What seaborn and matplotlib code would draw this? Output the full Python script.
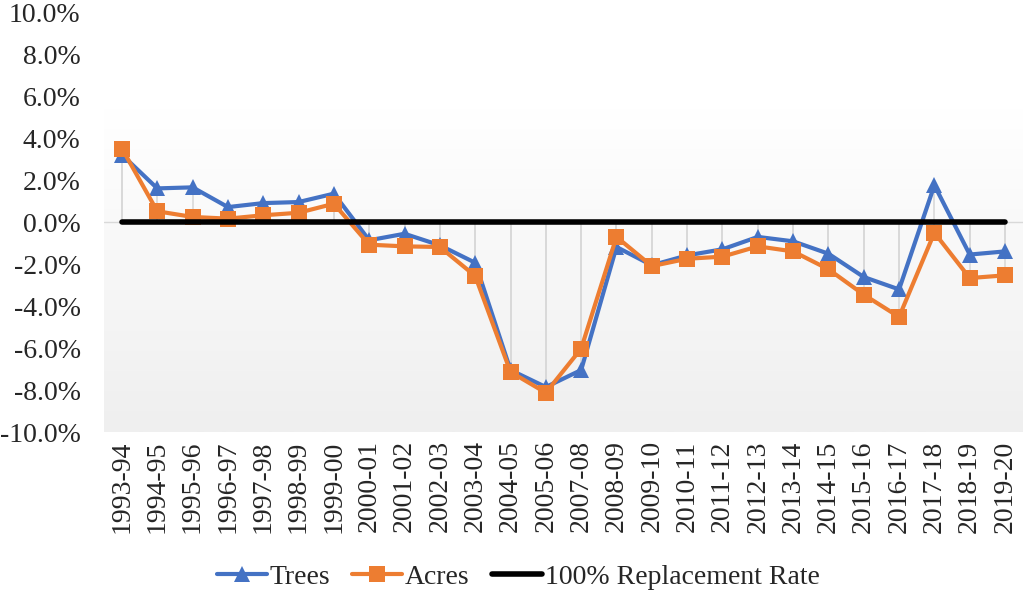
import numpy as np
import pandas as pd
import matplotlib
matplotlib.use('Agg')
import matplotlib.pyplot as plt
from matplotlib.colors import LinearSegmentedColormap
from matplotlib.lines import Line2D
import seaborn as sns

# data (percent)
seasons = ['1993-94', '1994-95', '1995-96', '1996-97', '1997-98', '1998-99', '1999-00',
           '2000-01', '2001-02', '2002-03', '2003-04', '2004-05', '2005-06', '2007-08',
           '2008-09', '2009-10', '2010-11', '2011-12', '2012-13', '2013-14', '2014-15',
           '2015-16', '2016-17', '2017-18', '2018-19', '2019-20']
trees = [3.2, 1.6, 1.65, 0.71, 0.9, 0.95, 1.35, -0.87, -0.56, -1.11, -1.94, -7.05, -7.86,
         -7.05, -1.19, -2.06, -1.59, -1.3, -0.71, -0.92, -1.51, -2.62, -3.21, 1.75, -1.55, -1.4]
acres = [3.5, 0.51, 0.24, 0.16, 0.32, 0.44, 0.87, -1.08, -1.16, -1.19, -2.57, -7.14, -8.13,
         -6.03, -0.71, -2.1, -1.75, -1.65, -1.16, -1.4, -2.25, -3.46, -4.52, -0.51, -2.67, -2.54]
replacement = [0.0] * len(seasons)
yticks = [-10, -8, -6, -4, -2, 0, 2, 4, 6, 8, 10]

sns.set_style('white')
plt.rcParams['font.family'] = ['Liberation Serif', 'DejaVu Serif']
plt.rcParams['font.size'] = 20

pos = np.arange(len(seasons))
df = pd.DataFrame({
    'pos': np.concatenate([pos, pos]),
    'value': trees + acres,
    'series': ['Trees'] * len(seasons) + ['Acres'] * len(seasons),
})

fig = plt.figure(figsize=(10.24, 5.92), dpi=100)
ax = fig.add_axes([104.3 / 1024, 1 - 432 / 592, (1022.7 - 104.3) / 1024, 420 / 592])

# gradient plot-area fill
cmap = LinearSegmentedColormap.from_list('bg', ['#ffffff', '#efefef'])
grad = np.linspace(0, 1, 256).reshape(-1, 1)
ax.imshow(grad, cmap=cmap, aspect='auto', extent=(-0.5, 25.5, -10, 5.4),
          origin='upper', zorder=0)

# drop lines and axis line
ax.vlines(pos, 0, trees, color='#d9d9d9', lw=1.2, zorder=1)
ax.vlines(pos, 0, acres, color='#d9d9d9', lw=1.2, zorder=1)
ax.axhline(0, color='#d9d9d9', lw=1, zorder=1)

sns.lineplot(data=df, x='pos', y='value', hue='series', style='series',
             palette={'Trees': '#4472C4', 'Acres': '#ED7D31'},
             markers={'Trees': '^', 'Acres': 's'}, dashes=False,
             markersize=11, markeredgewidth=0, lw=3, ax=ax, zorder=3, legend=False)
ax.plot(pos, replacement, color='black', lw=4, zorder=4, label='100% Replacement Rate')

ax.set_xlim(-0.5, 25.5)
ax.set_ylim(-10, 10)
ax.set_xticks(pos)
ax.set_xticklabels(seasons, rotation=90)
ax.set_yticks(yticks)
ax.set_yticklabels([f'{v:.1f}%' for v in yticks])
ax.tick_params(axis='y', length=0, pad=17)
ax.tick_params(axis='x', length=0, pad=6)
ax.set_xlabel('')
ax.set_ylabel('')
for s in ax.spines.values():
    s.set_visible(False)

handles = [
    Line2D([], [], color='#4472C4', marker='^', markersize=11, lw=3, markeredgewidth=0),
    Line2D([], [], color='#ED7D31', marker='s', markersize=11, lw=3, markeredgewidth=0),
    Line2D([], [], color='black', lw=4),
]
fig.legend(handles, ['Trees', 'Acres', '100% Replacement Rate'], loc='center',
           bbox_to_anchor=(518 / 1024, 1 - 577 / 592), ncol=3, frameon=False,
           handlelength=1.8, handletextpad=0.1, columnspacing=0.8, borderpad=0)

fig.savefig('out.png', dpi=100)
